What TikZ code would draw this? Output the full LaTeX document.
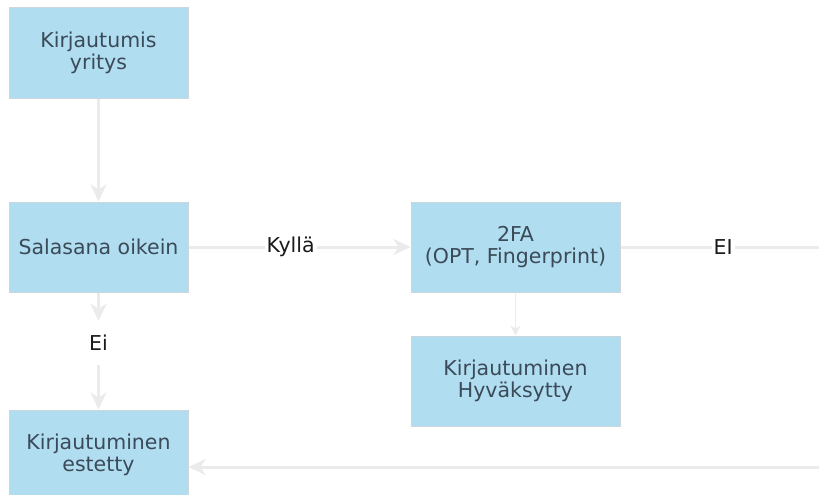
\documentclass[tikz,border=0pt]{standalone}
\usepackage{fontspec}
\setmainfont{DejaVu Sans}
\usetikzlibrary{arrows.meta}
\definecolor{boxfill}{HTML}{B1DDF0}
\definecolor{boxline}{HTML}{CCD6DD}
\definecolor{boxtext}{HTML}{3A4A58}
\definecolor{edge}{HTML}{EBEBEB}
\definecolor{labtext}{HTML}{1A1A1A}
\tikzset{
  x=1pt, y=-1pt,
  stepbox/.style={draw=boxline, line width=1pt, fill=boxfill, text=boxtext,
    minimum height=90pt, align=center, inner sep=0pt,
    font=\fontsize{20.5}{22.5}\selectfont},
  narrowbox/.style={stepbox, minimum width=179pt},
  widebox/.style={stepbox, minimum width=209pt},
  link/.style={draw=edge, line width=3pt, -{Stealth[length=17pt,width=16pt,inset=5pt]}},
  thinlink/.style={draw=edge, line width=1.2pt, -{Stealth[length=10pt,width=10pt,inset=3pt]}},
  lab/.style={fill=white, text=labtext, inner sep=2pt, font=\fontsize{20.5}{22.5}\selectfont},
  textnode/.style={text=labtext, inner sep=0pt, minimum height=44pt, font=\fontsize{20.5}{22.5}\selectfont}
}
\begin{document}
\begin{tikzpicture}
\useasboundingbox (0,0) rectangle (819,495);
\clip (0,0) rectangle (819,495);
\node[narrowbox] (start) at (98.5,53) {Kirjautumis\\yritys};
\node[narrowbox] (pw) at (98.5,247) {Salasana oikein};
\node[widebox] (tfa) at (515.5,247) {2FA\\(OPT, Fingerprint)};
\node[widebox] (ok) at (515.5,381) {Kirjautuminen\\Hyväksytty};
\node[narrowbox] (deny) at (98.5,455) {Kirjautuminen\\estetty};
\node[textnode] (ei) at (98.5,343) {Ei};
\coordinate (r1) at (830,247);
\coordinate (r2) at (830,467);
\coordinate (r3) at (188.5,467);
\draw[link] (start) -- (pw);
\draw[link] (pw) -- node[lab, pos=0.46] {Kyllä} (tfa);
\draw[link] (pw) -- (ei);
\draw[link] (ei) -- (deny);
\draw[thinlink] (tfa) -- (ok);
\draw[link] (tfa.east) -- node[lab, pos=0.49] {EI} (r1) -- (r2) -- (r3);
\end{tikzpicture}
\end{document}
